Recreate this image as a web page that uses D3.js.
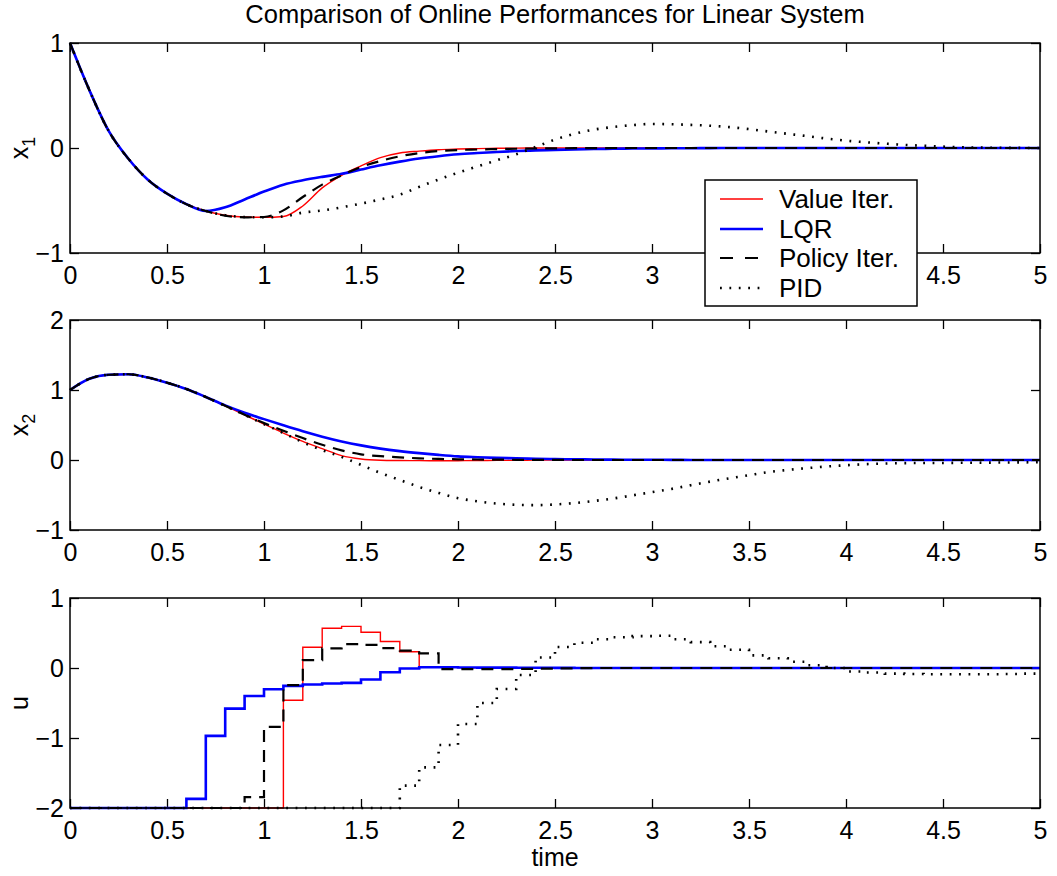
<!DOCTYPE html>
<html>
<head>
<meta charset="utf-8">
<script src="https://cdn.jsdelivr.net/npm/d3@7"></script>
<style>
  body { margin: 0; background: #fff; }
  svg { display: block; font-family: "Liberation Sans", Arial, Helvetica, sans-serif; }
</style>
</head>
<body>
<svg id="fig" width="1057" height="876"></svg>
<script>
// ---- data: sampled every 0.1 s over 0..5 s ----
const time = [0,0.1,0.2,0.3,0.4,0.5,0.6,0.7,0.8,0.9,1.0,1.1,1.2,1.3,1.4,1.5,1.6,1.7,1.8,1.9,
  2.0,2.1,2.2,2.3,2.4,2.5,2.6,2.7,2.8,2.9,3.0,3.1,3.2,3.3,3.4,3.5,3.6,3.7,3.8,3.9,
  4.0,4.1,4.2,4.3,4.4,4.5,4.6,4.7,4.8,4.9,5.0];

const seriesNames = ["Value Iter.", "LQR", "Policy Iter.", "PID"];

// state x1
const x1Value = [1.0,0.55,0.16,-0.10,-0.30,-0.435,-0.535,-0.60,-0.64,-0.657,-0.66,-0.652,-0.552,-0.38,-0.26,-0.171,-0.092,-0.048,-0.03,-0.016,
  -0.01,-0.006,-0.003,-0.001,0,0,0,0,0,0,0,0,0,0,0,0,0,0,0,0,0,0,0,0,0,0,0,0,0,0,0];
const x1LQR = [1.0,0.55,0.16,-0.10,-0.30,-0.435,-0.535,-0.60,-0.565,-0.49,-0.415,-0.35,-0.308,-0.275,-0.246,-0.205,-0.165,-0.13,-0.1,-0.078,
  -0.06,-0.048,-0.038,-0.029,-0.023,-0.018,-0.013,-0.01,-0.007,-0.005,-0.004,-0.003,-0.002,-0.001,0,0,0,0,0,0,
  0,0,0,0,0,0,0,0,0,0,0];
const x1Policy = [1.0,0.55,0.16,-0.10,-0.30,-0.435,-0.535,-0.60,-0.645,-0.66,-0.657,-0.594,-0.467,-0.349,-0.26,-0.181,-0.124,-0.079,-0.048,-0.029,
  -0.019,-0.014,-0.01,-0.007,-0.005,-0.003,-0.002,-0.001,0,0,0,0,0,0,0,0,0,0,0,0,0,0,0,0,0,0,0,0,0,0,0];
const x1PID = [1.0,0.55,0.16,-0.10,-0.30,-0.435,-0.535,-0.60,-0.64,-0.657,-0.66,-0.652,-0.615,-0.595,-0.565,-0.53,-0.49,-0.445,-0.37,-0.30,
  -0.235,-0.176,-0.117,-0.06,0.01,0.08,0.135,0.175,0.2,0.218,0.229,0.226,0.22,0.212,0.199,0.18,0.157,0.135,0.113,0.09,
  0.07,0.055,0.042,0.03,0.021,0.013,0.007,0.004,0.002,0.001,0];

// state x2
const x2Value = [1.0,1.16,1.218,1.225,1.18,1.105,1.015,0.9,0.774,0.645,0.513,0.385,0.266,0.162,0.062,0.014,-0.003,-0.007,-0.009,-0.01,
  -0.01,-0.008,-0.006,-0.004,-0.002,-0.001,0,0,0,0,0,0,0,0,0,0,0,0,0,0,0,0,0,0,0,0,0,0,0,0,0];
const x2LQR = [1.0,1.16,1.218,1.225,1.18,1.105,1.015,0.9,0.78,0.675,0.584,0.495,0.41,0.333,0.265,0.209,0.163,0.127,0.098,0.073,
  0.052,0.04,0.03,0.024,0.018,0.013,0.01,0.007,0.005,0.004,0.003,0.002,0.001,0,0,0,0,0,0,0,
  0,0,0,0,0,0,0,0,0,0,0];
const x2Policy = [1.0,1.16,1.218,1.225,1.18,1.105,1.015,0.9,0.774,0.648,0.527,0.418,0.313,0.218,0.138,0.081,0.055,0.038,0.024,0.015,
  0.01,0.007,0.005,0.003,0.002,0.001,0,0,0,0,0,0,0,0,0,0,0,0,0,0,0,0,0,0,0,0,0,0,0,0,0];
const x2PID = [1.0,1.16,1.218,1.225,1.18,1.105,1.015,0.9,0.774,0.645,0.513,0.385,0.255,0.14,0.045,-0.07,-0.185,-0.285,-0.385,-0.47,
  -0.545,-0.59,-0.622,-0.64,-0.645,-0.635,-0.615,-0.585,-0.55,-0.505,-0.46,-0.413,-0.36,-0.308,-0.262,-0.217,-0.173,-0.142,-0.116,-0.093,
  -0.075,-0.06,-0.05,-0.045,-0.043,-0.042,-0.04,-0.038,-0.036,-0.034,-0.032];

// control input u (zero-order hold)
const uValue = [-2,-2,-2,-2,-2,-2,-2,-2,-2,-2,-2,-0.46,0.296,0.568,0.595,0.51,0.378,0.233,0.01,0.01,
  0.005,0,0,0,0,0,0,0,0,0,0,0,0,0,0,0,0,0,0,0,0,0,0,0,0,0,0,0,0,0,0];
const uLQR = [-2,-2,-2,-2,-2,-2,-1.87,-0.97,-0.58,-0.40,-0.303,-0.255,-0.236,-0.222,-0.212,-0.165,-0.06,-0.008,0.01,0.01,
  0.008,0.006,0.005,0.004,0.003,0.002,0.001,0,0,0,0,0,0,0,0,0,0,0,0,0,0,0,0,0,0,0,0,0,0,0,0];
const uPolicy = [-2,-2,-2,-2,-2,-2,-2,-2,-2,-1.845,-0.84,-0.245,0.112,0.28,0.34,0.33,0.285,0.248,0.208,-0.015,
  -0.015,-0.015,-0.015,-0.012,-0.008,-0.004,-0.002,0,0,0,0,0,0,0,0,0,0,0,0,0,0,0,0,0,0,0,0,0,0,0,0];
const uPID = [-2,-2,-2,-2,-2,-2,-2,-2,-2,-2,-2,-2,-2,-2,-2,-2,-2,-1.68,-1.42,-1.1,
  -0.8,-0.5,-0.3,-0.1,0.15,0.3,0.36,0.41,0.44,0.455,0.46,0.41,0.37,0.31,0.26,0.18,0.14,0.09,0.04,0.0,
  -0.05,-0.065,-0.08,-0.085,-0.09,-0.09,-0.09,-0.09,-0.085,-0.08,-0.08];

const xTicks = [0,0.5,1,1.5,2,2.5,3,3.5,4,4.5,5];
const x1Ticks = [-1,0,1];
const x2Ticks = [-1,0,1,2];
const uTicks = [-2,-1,0,1];
// tick labels on the first panel that sit under the legend box
const hiddenTop = [3.5, 4];

// ---- layout ----
const svg = d3.select("#fig");
const FONT = 25, BIG = 25.5;
const left = 70, right = 1040, panelH = 210, tickLen = 9;
const x = d3.scaleLinear().domain([0, 5]).range([left, right]);

const styles = [
  { color: "#ff0000", width: 1.4, dash: null },
  { color: "#0000ff", width: 2.6, dash: null },
  { color: "#000000", width: 2.2, dash: "12,8" },
  { color: "#000000", width: 2.6, dash: "1.8,7.6" }
];

const panels = [
  { top: 43,  domain: [-1, 1], ticks: x1Ticks, label: "x", sub: "1", data: [x1Value, x1LQR, x1Policy, x1PID], step: false },
  { top: 320, domain: [-1, 2], ticks: x2Ticks, label: "x", sub: "2", data: [x2Value, x2LQR, x2Policy, x2PID], step: false },
  { top: 598, domain: [-2, 1], ticks: uTicks,  label: "u", sub: null, data: [uValue, uLQR, uPolicy, uPID], step: true }
];

const fmt = d => (d < 0 ? "\u2212" + Math.abs(d) : String(d));

function styleAxis(g) {
  g.select(".domain").remove();
  g.attr("font-size", FONT).attr("font-family", null);
  g.selectAll("line").attr("stroke", "#000").attr("stroke-width", 1.3);
  g.selectAll("text").attr("fill", "#000");
}

panels.forEach((p, pi) => {
  const y = d3.scaleLinear().domain(p.domain).range([p.top + panelH, p.top]);
  const g = svg.append("g");

  g.append("rect")
    .attr("x", left).attr("y", p.top)
    .attr("width", right - left).attr("height", panelH)
    .attr("fill", "#fff");

  // ticks pointing inward on all four sides
  const xFmt = d => (pi === 0 && hiddenTop.includes(d)) ? "" : String(d);
  g.append("g").attr("transform", `translate(0,${p.top + panelH})`)
    .call(d3.axisBottom(x).tickValues(xTicks).tickSize(-tickLen).tickPadding(13).tickFormat(xFmt))
    .call(styleAxis);
  g.append("g").attr("transform", `translate(0,${p.top})`)
    .call(d3.axisTop(x).tickValues(xTicks).tickSize(-tickLen).tickFormat(""))
    .call(styleAxis);
  g.append("g").attr("transform", `translate(${left},0)`)
    .call(d3.axisLeft(y).tickValues(p.ticks).tickSize(-tickLen).tickPadding(6).tickFormat(fmt))
    .call(styleAxis);
  g.append("g").attr("transform", `translate(${right},0)`)
    .call(d3.axisRight(y).tickValues(p.ticks).tickSize(-tickLen).tickFormat(""))
    .call(styleAxis);

  // axis label, rotated
  const cy = p.top + panelH / 2;
  const lab = g.append("text")
    .attr("transform", `translate(28,${cy}) rotate(-90)`)
    .attr("text-anchor", "middle")
    .attr("font-size", FONT)
    .text(p.label);
  if (p.sub) {
    lab.append("tspan").attr("font-size", 18).attr("dy", 7).text(p.sub);
  }

  // series
  const line = d3.line()
    .x((d, i) => x(time[i]))
    .y(d => y(d))
    .curve(p.step ? d3.curveStepAfter : d3.curveMonotoneX);

  p.data.forEach((vals, k) => {
    const s = styles[k];
    g.append("path")
      .datum(vals)
      .attr("d", line)
      .attr("fill", "none")
      .attr("stroke", s.color)
      .attr("stroke-width", s.width)
      .attr("stroke-dasharray", s.dash)
      .attr("stroke-linejoin", "miter");
  });

  // box outline
  g.append("rect")
    .attr("x", left).attr("y", p.top)
    .attr("width", right - left).attr("height", panelH)
    .attr("fill", "none").attr("stroke", "#000").attr("stroke-width", 1.5);
});

// title
svg.append("text")
  .attr("x", (left + right) / 2).attr("y", 23)
  .attr("text-anchor", "middle").attr("font-size", BIG)
  .text("Comparison of Online Performances for Linear System");

// x label
svg.append("text")
  .attr("x", x(2.5)).attr("y", 866)
  .attr("text-anchor", "middle").attr("font-size", FONT)
  .text("time");

// legend
const lg = svg.append("g");
lg.append("rect")
  .attr("x", 705).attr("y", 180).attr("width", 212).attr("height", 126)
  .attr("fill", "#fff").attr("stroke", "#000").attr("stroke-width", 1.5);
const rowY = [199, 229, 258, 288];
const legendDash = [null, null, "13,12", "1.8,7.6"];
seriesNames.forEach((name, k) => {
  const s = styles[k];
  lg.append("line")
    .attr("x1", 720).attr("x2", 763)
    .attr("y1", rowY[k]).attr("y2", rowY[k])
    .attr("stroke", s.color).attr("stroke-width", s.width)
    .attr("stroke-dasharray", legendDash[k]);
  lg.append("text")
    .attr("x", 779).attr("y", rowY[k]).attr("dy", "0.36em")
    .attr("font-size", 26)
    .text(name);
});
</script>
</body>
</html>
